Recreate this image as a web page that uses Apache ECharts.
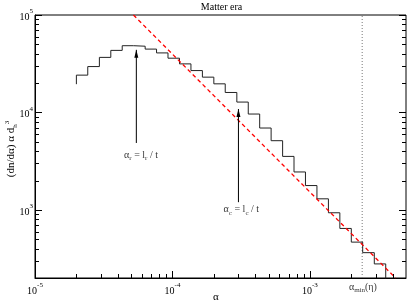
<!DOCTYPE html>
<html><head><meta charset="utf-8">
<script src="https://cdn.jsdelivr.net/npm/echarts@6/dist/echarts.min.js"></script>
<style>html,body{margin:0;padding:0;background:#fff}#c{width:409px;height:303px}</style>
</head><body><div id="c"></div>
<script>
// ---- data ----
const binEdges = [2.00e-5, 2.42e-5, 2.94e-5, 3.56e-5, 4.31e-5, 5.22e-5, 6.33e-5, 7.66e-5, 9.28e-5,
  1.125e-4, 1.363e-4, 1.651e-4, 2.00e-4, 2.42e-4, 2.94e-4, 3.56e-4, 4.31e-4, 5.22e-4, 6.33e-4, 7.66e-4, 9.28e-4,
  1.125e-3, 1.363e-3, 1.651e-3, 2.00e-3, 2.42e-3, 2.94e-3, 3.56e-3, 4.31e-3];
const binValues = [24150, 29570, 36730, 43340, 48400, 47830, 44670, 40830, 36040, 31500, 26900, 23030,
  19660, 16030, 12780, 9630, 6920, 5130, 3540, 2450, 1777, 1299, 934, 645, 467, 364, 279, 150];
const histStart = 19500;
const fitLine = [[5.2e-5, 1e5], [4.2e-3, 200]];
const alphaMin = 2.4e-3;
const arrowR = [[5.46e-5, 4860], [5.46e-5, 43900]];
const arrowC = [[3.02e-4, 1200], [3.02e-4, 10840]];
const labelR = [5.91e-5, 3660];
const labelC = [3.17e-4, 1010];
const labelMin = [2.43e-3, 162];
const xRange = [1e-5, 5e-3];
const yRange = [200, 1e5];
const xMajorTicks = [1e-5, 1e-4, 1e-3];
const xMinorTicks = [2e-5,3e-5,4e-5,5e-5,6e-5,7e-5,8e-5,9e-5,2e-4,3e-4,4e-4,5e-4,6e-4,7e-4,8e-4,9e-4,2e-3,3e-3,4e-3];
const yMajorTicks = [1e3, 1e4, 1e5];
const yMinorTicks = [300,400,500,600,700,800,900,2e3,3e3,4e3,5e3,6e3,7e3,8e3,9e3,2e4,3e4,4e4,5e4,6e4,7e4,8e4,9e4];
const titleText = 'Matter era';
const xTitle = 'α';

const FONT = 'Liberation Serif';
const chart = echarts.init(document.getElementById('c'), null, {renderer: 'canvas'});

const histData = [[binEdges[0], histStart]];
binValues.forEach((v, i) => histData.push([binEdges[i], v]));
histData.push([binEdges[binValues.length], binValues[binValues.length - 1]]);

const tickData = [];
xMajorTicks.forEach(v => tickData.push([v, yRange[0], 0]));
xMinorTicks.forEach(v => tickData.push([v, yRange[0], 1]));
yMajorTicks.forEach(v => tickData.push([xRange[0], v, 2]));
yMinorTicks.forEach(v => tickData.push([xRange[0], v, 3]));

const rich = {
  b: {fontFamily: FONT, fontSize: 10, color: '#000', lineHeight: 14, verticalAlign: 'middle'},
  u: {fontFamily: FONT, fontSize: 7, color: '#000', lineHeight: 14, verticalAlign: 'bottom'},
  p: {fontFamily: FONT, fontSize: 7, color: '#000', lineHeight: 14, verticalAlign: 'top'}
};
const tickRich = {
  b: {fontFamily: FONT, fontSize: 10, color: '#000', lineHeight: 14, verticalAlign: 'bottom'},
  s: {fontFamily: FONT, fontSize: 7, color: '#000', lineHeight: 14, verticalAlign: 'top'}
};
function powFmt(v) {
  const e = Math.log10(v), r = Math.round(e);
  if (Math.abs(e - r) > 1e-6) return '';
  return '{b|10}{s|' + r + '}';
}
function arrowSeries(pts) {
  return {
    type: 'line', silent: true, z: 4,
    data: [{value: pts[0], symbol: 'none'}, {value: pts[1], symbol: 'triangle', symbolSize: [4, 8], symbolOffset: [0, 4]}],
    lineStyle: {color: '#000', width: 1}, itemStyle: {color: '#000'}
  };
}
function textPoint(pos, fmt) {
  return {
    type: 'scatter', silent: true, symbolSize: 0, clip: false, z: 5,
    data: [{value: pos, label: {show: true, position: 'inside', formatter: fmt, rich: rich}}]
  };
}

chart.setOption({
  animation: false,
  backgroundColor: '#fff',
  grid: {left: 35, top: 15, width: 373, height: 263, show: true, borderColor: '#000', borderWidth: 1},
  xAxis: {
    type: 'log', logBase: 10, min: xRange[0], max: xRange[1],
    axisLine: {show: true, lineStyle: {color: '#000', width: 1}},
    axisTick: {show: false}, splitLine: {show: false}, minorTick: {show: false},
    axisLabel: {formatter: powFmt, rich: tickRich, margin: 4, showMinLabel: true, showMaxLabel: true, hideOverlap: false}
  },
  yAxis: {
    type: 'log', logBase: 10, min: yRange[0], max: yRange[1],
    axisLine: {show: true, lineStyle: {color: '#000', width: 1}},
    axisTick: {show: false}, splitLine: {show: false}, minorTick: {show: false},
    axisLabel: {formatter: powFmt, rich: tickRich, margin: 2, showMinLabel: true, showMaxLabel: true, hideOverlap: false}
  },
  graphic: [
    {type: 'text', x: 221.5, y: 7, style: {text: titleText, font: '10px "Liberation Serif"', fill: '#000', align: 'center', verticalAlign: 'middle'}},
    {type: 'text', x: 216, y: 297, style: {text: xTitle, font: '11px "Liberation Serif"', fill: '#000', align: 'center', verticalAlign: 'middle'}},
    {type: 'text', x: 11, y: 149, rotation: Math.PI / 2,
     style: {text: '{b|(dn/dα) α d}{u|h}{p|3}', rich: {
       b: {fontFamily: FONT, fontSize: 11, fill: '#000', lineHeight: 15, verticalAlign: 'middle'},
       u: {fontFamily: FONT, fontSize: 7, fill: '#000', lineHeight: 15, verticalAlign: 'bottom'},
       p: {fontFamily: FONT, fontSize: 7, fill: '#000', lineHeight: 15, verticalAlign: 'top'}
     }, align: 'center', verticalAlign: 'middle'}}
  ],
  series: [
    {
      type: 'line', step: 'end', data: histData, symbol: 'none', silent: true, z: 3,
      lineStyle: {color: '#222', width: 1}, clip: true
    },
    {
      type: 'line', data: fitLine, symbol: 'none', silent: true, z: 3, clip: true,
      lineStyle: {color: '#ff0000', width: 1.3, type: [4, 3]}
    },
    {
      type: 'line', data: [[alphaMin, yRange[0]], [alphaMin, yRange[1]]], symbol: 'none', silent: true, z: 2,
      lineStyle: {color: '#777', width: 1, type: [1, 2]}
    },
    arrowSeries(arrowR),
    arrowSeries(arrowC),
    textPoint(labelR, '{b|α}{u|r}{b| = l}{u|r}{b| / t}'),
    textPoint(labelC, '{b|α}{u|c}{b| = l}{u|c}{b| / t}'),
    textPoint(labelMin, '{b|α}{u|min}{b|(η)}'),
    {
      type: 'custom', coordinateSystem: 'cartesian2d', silent: true, clip: false, z: 6,
      data: tickData,
      renderItem: function (params, api) {
        const k = api.value(2);
        const p = api.coord([api.value(0), api.value(1)]);
        const st = {stroke: '#000', lineWidth: 1};
        if (k < 2) {
          const L = k === 0 ? 7 : 4;
          const x = Math.round(p[0]) + 0.5;
          return {type: 'line', shape: {x1: x, y1: p[1], x2: x, y2: p[1] - L}, style: st};
        }
        const L = k === 2 ? 7 : 4;
        const q = api.coord([xRange[1], api.value(1)]);
        const y = Math.round(p[1]) + 0.5;
        return {type: 'group', children: [
          {type: 'line', shape: {x1: p[0], y1: y, x2: p[0] + L, y2: y}, style: st},
          {type: 'line', shape: {x1: q[0], y1: y, x2: q[0] - L, y2: y}, style: st}
        ]};
      }
    }
  ]
});
</script>
</body></html>
